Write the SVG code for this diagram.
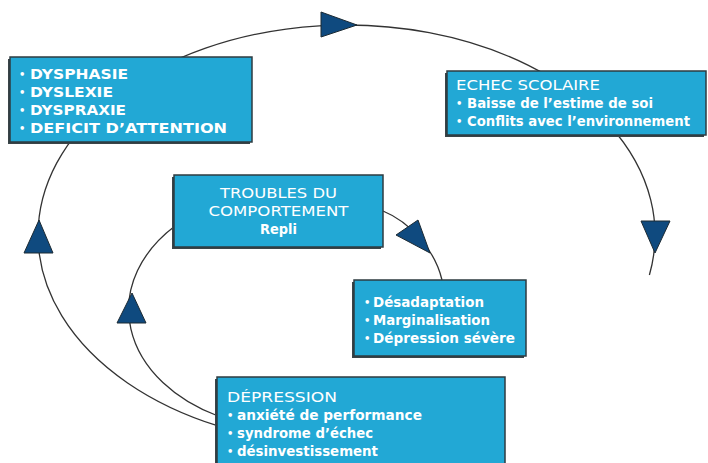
<svg xmlns="http://www.w3.org/2000/svg" width="708" height="463" viewBox="0 0 708 463">
<style>
.box{fill:#22a8d5;stroke:#2e3b40;stroke-width:1.5}
.sh{fill:#3a4448}
.t{font-family:"DejaVu Sans","Liberation Sans",sans-serif;fill:#ffffff;font-size:14px;font-weight:bold}
.r{font-weight:normal}
.b{font-family:"DejaVu Sans","Liberation Sans",sans-serif;fill:#ffffff;font-size:10px;font-weight:bold}
.ln{fill:none;stroke:#333;stroke-width:1.3}
.ar{fill:#0f4a7f;stroke:#1c2a33;stroke-width:1}
</style>
<g id="connectors">
<path class="ln" d="M218,425.9 A308.5,210 0 1 1 649.4,275"/>
<path class="ln" d="M218,416 A165,120 0 0 1 175,226"/>
<path class="ln" d="M383,211 C410,222 435,250 442,280"/>
<polygon class="ar" points="321,12 321,37 357,25"/>
<polygon class="ar" points="39,220 24,253 53,253"/>
<polygon class="ar" points="641,221 670,221 655,253"/>
<polygon class="ar" points="132,293 117,323 146,323"/>
<polygon class="ar" points="418,220 396,235 430,253"/>
</g>
<g id="dys">
<rect class="sh" x="8" y="59" width="242" height="85"/>
<rect class="box" x="10" y="57" width="242" height="85"/>
<text class="b" x="19" y="78">•</text><text class="t" x="30" y="79" font-size="15" textLength="98" lengthAdjust="spacingAndGlyphs">DYSPHASIE</text>
<text class="b" x="19" y="96">•</text><text class="t" x="30" y="97" font-size="15" textLength="83" lengthAdjust="spacingAndGlyphs">DYSLEXIE</text>
<text class="b" x="19" y="114">•</text><text class="t" x="30" y="115" font-size="15" textLength="96" lengthAdjust="spacingAndGlyphs">DYSPRAXIE</text>
<text class="b" x="19" y="132">•</text><text class="t" x="30" y="133" font-size="15" textLength="197" lengthAdjust="spacingAndGlyphs">DEFICIT D’ATTENTION</text>
</g>
<g id="echec">
<rect class="sh" x="445" y="73" width="259" height="64"/>
<rect class="box" x="447" y="71" width="259" height="64"/>
<text class="t r" x="456" y="90" textLength="144" lengthAdjust="spacingAndGlyphs">ECHEC SCOLAIRE</text>
<text class="b" x="456" y="107">•</text><text class="t" x="467" y="108" textLength="186" lengthAdjust="spacingAndGlyphs">Baisse de l’estime de soi</text>
<text class="b" x="456" y="125">•</text><text class="t" x="467" y="126" textLength="223" lengthAdjust="spacingAndGlyphs">Conflits avec l’environnement</text>
</g>
<g id="troubles">
<rect class="sh" x="172" y="177" width="209" height="72"/>
<rect class="box" x="174" y="175" width="209" height="72"/>
<text class="t r" x="278.5" y="198" text-anchor="middle" textLength="117" lengthAdjust="spacingAndGlyphs">TROUBLES DU</text>
<text class="t r" x="278.5" y="216" text-anchor="middle" textLength="140" lengthAdjust="spacingAndGlyphs">COMPORTEMENT</text>
<text class="t" x="278.5" y="234" text-anchor="middle" textLength="37" lengthAdjust="spacingAndGlyphs">Repli</text>
</g>
<g id="desadaptation">
<rect class="sh" x="352" y="282" width="172" height="76"/>
<rect class="box" x="354" y="280" width="172" height="76"/>
<text class="b" x="364" y="306">•</text><text class="t" x="373" y="307" textLength="111" lengthAdjust="spacingAndGlyphs">Désadaptation</text>
<text class="b" x="364" y="324">•</text><text class="t" x="373" y="325" textLength="117" lengthAdjust="spacingAndGlyphs">Marginalisation</text>
<text class="b" x="364" y="342">•</text><text class="t" x="373" y="343" textLength="142" lengthAdjust="spacingAndGlyphs">Dépression sévère</text>
</g>
<g id="depression">
<rect class="sh" x="215" y="379" width="288" height="90"/>
<rect class="box" x="217" y="377" width="288" height="90"/>
<text class="t r" x="227" y="402" textLength="110" lengthAdjust="spacingAndGlyphs">DÉPRESSION</text>
<text class="b" x="227" y="419">•</text><text class="t" x="237" y="420" textLength="185" lengthAdjust="spacingAndGlyphs">anxiété de performance</text>
<text class="b" x="227" y="437">•</text><text class="t" x="237" y="438" textLength="136" lengthAdjust="spacingAndGlyphs">syndrome d’échec</text>
<text class="b" x="227" y="455">•</text><text class="t" x="237" y="456" textLength="141" lengthAdjust="spacingAndGlyphs">désinvestissement</text>
</g>
</svg>
